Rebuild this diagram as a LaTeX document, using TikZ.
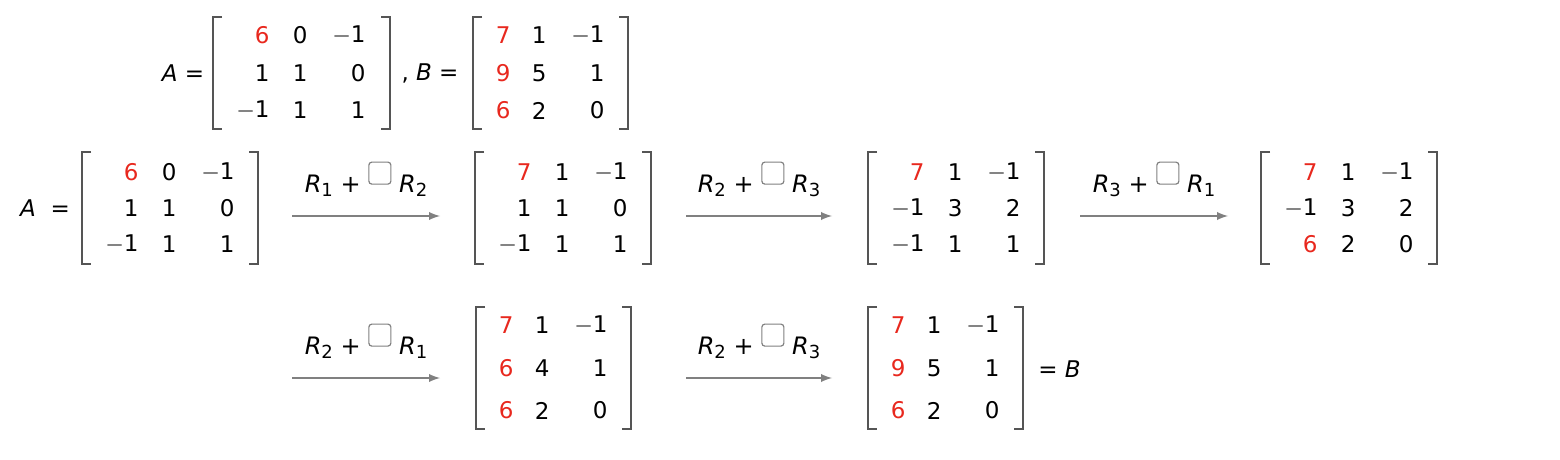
\documentclass[tikz,border=0pt]{standalone}
\usepackage{fontspec}
\setmainfont{DejaVu Sans}
\definecolor{myred}{HTML}{E8281E}
\definecolor{brg}{HTML}{555555}
\newcommand\rd[1]{\textcolor{myred}{#1}}
\newcommand\mn{\ensuremath{-}1}
\newcommand\mtx[9]{%
  \draw[br] (#1+9,#2-#4) -- (#1,#2-#4) -- (#1,#2+#4) -- (#1+9,#2+#4);
  \draw[br] (#1+#3-9,#2-#4) -- (#1+#3,#2-#4) -- (#1+#3,#2+#4) -- (#1+#3-9,#2+#4);
  \foreach \p/\q/\r [count=\i] in {#9}{
    \node[ent] at (#1+#6,#2+\i*#5-2*#5) {\p};
    \node[ent] at (#1+#7,#2+\i*#5-2*#5) {\q};
    \node[ent] at (#1+#8,#2+\i*#5-2*#5) {\r};
  }}
\newcommand\arr[5]{%
  \draw[arw] (#1,#3) -- (#2,#3);
  \node[anchor=base,font=\fontsize{12}{14}\selectfont] at ({(#1+#2)/2},#3-24) {\textit{R}\raisebox{-0.35ex}{\small #4} + \tikz[baseline=-0.6ex]\draw[box] (0,0) rectangle (11pt,11pt);\ \textit{R}\raisebox{-0.35ex}{\small #5}};}
\begin{document}
\begin{tikzpicture}[x=0.5pt,y=-0.5pt,
  br/.style={brg,line width=1.4pt},
  ent/.style={anchor=east,inner sep=0pt,font=\fontsize{11.5}{13}\selectfont},
  txt/.style={inner sep=0pt,font=\fontsize{11.5}{13}\selectfont},
  arw/.style={gray,line width=0.9pt,-latex},
  box/.style={gray,line width=0.6pt,rounded corners=1.5pt}]
\useasboundingbox (0,0) rectangle (1560,460);
% top
\node[txt] (tA) at (183,73) {\textit{A} =};
\mtx{213}{73}{177}{56}{37.5}{57}{95}{153}{\rd{6}/0/\mn, 1/1/0, \mn/1/1}
\node[txt] (tB) at (430,73) {, \textit{B} =};
\mtx{473}{73}{155}{56}{37.5}{38}{74}{132}{\rd{7}/1/\mn, \rd{9}/5/1, \rd{6}/2/0}
% middle
\node[txt] (mA) at (45,208) {\textit{A} \ =};
\mtx{82}{208}{176}{56}{36}{57}{95}{153}{\rd{6}/0/\mn, 1/1/0, \mn/1/1}
\arr{292}{440}{216}{1}{2}
\mtx{475}{208}{176}{56}{36}{57}{95}{153}{\rd{7}/1/\mn, 1/1/0, \mn/1/1}
\arr{686}{832}{216}{2}{3}
\mtx{868}{208}{176}{56}{36}{57}{95}{153}{\rd{7}/1/\mn, \mn/3/2, \mn/1/1}
\arr{1080}{1228}{216}{3}{1}
\mtx{1261}{208}{176}{56}{36}{57}{95}{153}{\rd{7}/1/\mn, \mn/3/2, \rd{6}/2/0}
% bottom
\arr{292}{440}{378}{2}{1}
\mtx{476}{368}{155}{61}{42.5}{38}{74}{132}{\rd{7}/1/\mn, \rd{6}/4/1, \rd{6}/2/0}
\arr{686}{832}{378}{2}{3}
\mtx{868}{368}{155}{61}{42.5}{38}{74}{132}{\rd{7}/1/\mn, \rd{9}/5/1, \rd{6}/2/0}
\node[txt,anchor=west] (eB) at (1038,369) {= \textit{B}};
\end{tikzpicture}
\end{document}
